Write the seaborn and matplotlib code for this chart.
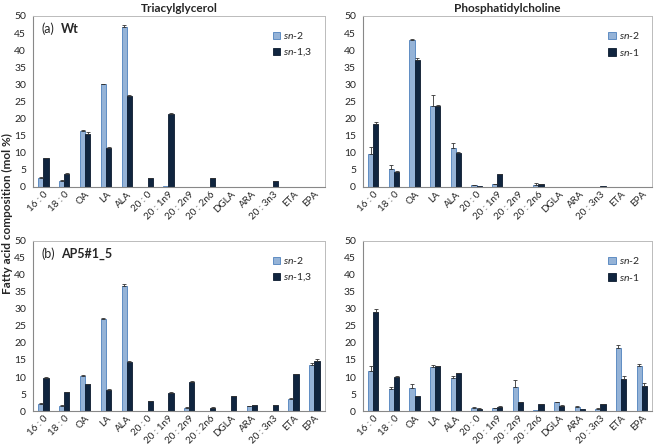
import numpy as np
import pandas as pd
import matplotlib
matplotlib.use('Agg')
import matplotlib.pyplot as plt
import seaborn as sns
from matplotlib.patches import Patch

# categorias (ácidos graxos)
acidos = ['16 : 0', '18 : 0', 'OA', 'LA', 'ALA', '20 : 0', '20 : 1n9', '20 : 2n9',
          '20 : 2n6', 'DGLA', 'ARA', '20 : 3n3', 'ETA', 'EPA']

# (a) Wt - Triacylglycerol
tag_wt_sn2 = [2.5, 1.8, 16.5, 30.0, 46.8, 0.1, 0.3, 0.05, 0.1, 0.05, 0.05, 0.05, 0.05, 0.05]
tag_wt_sn2_err = [0.3, 0.2, 0.2, 0.2, 0.6, 0, 0, 0, 0, 0, 0, 0, 0, 0]
tag_wt_sn13 = [8.4, 3.9, 15.6, 11.4, 26.5, 2.5, 21.2, 0.1, 2.5, 0.1, 0.1, 1.7, 0.1, 0.1]
tag_wt_sn13_err = [0.1, 0.2, 0.4, 0.2, 0.5, 0.1, 0.3, 0, 0.1, 0, 0, 0.1, 0, 0]

# (a) Wt - Phosphatidylcholine
pc_wt_sn2 = [9.6, 5.3, 43.1, 23.7, 11.3, 0.6, 0.9, 0.05, 0.7, 0.05, 0.05, 0.1, 0.05, 0.05]
pc_wt_sn2_err = [2.2, 1.0, 0.1, 3.2, 1.5, 0.1, 0.1, 0, 0.5, 0, 0, 0, 0, 0]
pc_wt_sn1 = [18.3, 4.5, 37.0, 23.6, 10.0, 0.3, 3.7, 0.1, 0.9, 0.1, 0.1, 0.3, 0.1, 0.1]
pc_wt_sn1_err = [0.7, 0.2, 0.7, 0.5, 0.1, 0, 0.1, 0, 0.1, 0, 0, 0, 0, 0]

# (b) AP5#1_5 - Triacylglycerol
tag_ap_sn2 = [2.2, 1.6, 10.3, 27.1, 36.9, 0.1, 0.1, 1.0, 0.05, 0.05, 1.4, 0.1, 3.5, 13.6]
tag_ap_sn2_err = [0.2, 0.1, 0.2, 0.2, 0.3, 0, 0, 0.1, 0, 0, 0.1, 0, 0.2, 0.4]
tag_ap_sn13 = [9.8, 5.6, 7.8, 6.3, 14.5, 2.9, 5.4, 8.6, 1.0, 4.3, 1.8, 1.8, 10.8, 14.7]
tag_ap_sn13_err = [0.1, 0.1, 0.1, 0.2, 0.2, 0.1, 0.1, 0.2, 0.1, 0.1, 0.1, 0.1, 0.1, 0.5]

# (b) AP5#1_5 - Phosphatidylcholine
pc_ap_sn2 = [11.8, 6.4, 6.8, 12.9, 9.7, 1.0, 0.9, 7.1, 0.3, 2.6, 1.3, 0.7, 18.5, 13.2]
pc_ap_sn2_err = [1.3, 0.7, 1.2, 0.6, 0.7, 0.1, 0.1, 2.1, 0, 0.1, 0.2, 0.1, 1.0, 0.7]
pc_ap_sn1 = [29.1, 10.0, 4.4, 13.1, 11.1, 0.7, 1.3, 2.6, 2.0, 1.6, 0.5, 2.1, 9.4, 7.5]
pc_ap_sn1_err = [1.0, 0.2, 0.1, 0.2, 0.2, 0.1, 0.1, 0.1, 0.1, 0.1, 0, 0.1, 1.0, 0.8]

cor_clara = '#95B3D7'
borda_clara = '#4F81BD'
cor_escura = '#10253F'
borda_escura = '#0B1A2E'

sns.set_style('white')
plt.rcParams['font.family'] = ['Lato', 'DejaVu Sans']
plt.rcParams['mathtext.fontset'] = 'custom'
plt.rcParams['mathtext.it'] = 'Lato:italic'
plt.rcParams['mathtext.rm'] = 'Lato'


def painel(ax, v1, e1, v2, e2, nome2, rotulo=None, negrito=None, titulo=None):
    df = pd.DataFrame({
        'acido': acidos * 2,
        'valor': v1 + v2,
        'pos': ['sn-2'] * len(acidos) + [nome2] * len(acidos),
    })
    sns.barplot(data=df, x='acido', y='valor', hue='pos', order=acidos,
                hue_order=['sn-2', nome2], palette=[cor_clara, cor_escura],
                width=0.5, gap=0, errorbar=None, legend=False, ax=ax,
                saturation=1, linewidth=0.6)
    for cont, bordas, erros in zip(ax.containers, [borda_clara, borda_escura], [e1, e2]):
        xs, ys, es = [], [], []
        for barra, err in zip(cont, erros):
            barra.set_edgecolor(bordas)
            if err > 0:
                xs.append(barra.get_x() + barra.get_width() / 2)
                ys.append(barra.get_height())
                es.append(err)
        ax.errorbar(xs, ys, yerr=[np.zeros(len(es)), es], fmt='none',
                    ecolor='#333333', elinewidth=0.6, capsize=1.5, capthick=0.6)

    ax.set_ylim(0, 50)
    ax.set_xlim(-0.5, len(acidos) - 0.5)
    ax.set_yticks(range(0, 51, 5))
    ax.set_xlabel('')
    ax.set_ylabel('')
    ax.set_xticks(range(len(acidos)))
    ax.set_xticklabels(acidos, rotation=45, ha='right', rotation_mode='anchor', fontsize=7)
    ax.set_xticks(np.arange(-0.5, len(acidos), 1), minor=True)
    ax.tick_params(axis='x', which='major', length=0, pad=2)
    ax.tick_params(axis='x', which='minor', length=3.5, width=0.7, color='#888888')
    ax.tick_params(axis='y', length=3, width=0.7, color='#888888', labelsize=7.5, pad=2)
    for lado in ['top', 'right']:
        ax.spines[lado].set_color('#BBBBBB')
        ax.spines[lado].set_linewidth(0.7)
    for lado in ['left', 'bottom']:
        ax.spines[lado].set_color('#888888')
        ax.spines[lado].set_linewidth(0.8)

    alcas = [Patch(facecolor=cor_clara, edgecolor=borda_clara, linewidth=0.6),
             Patch(facecolor=cor_escura, edgecolor=borda_escura, linewidth=0.6)]
    nome_leg = nome2.replace('sn', r'$\it{sn}$')
    ax.legend(alcas, [r'$\it{sn}$-2', nome_leg], loc='upper right',
              bbox_to_anchor=(0.99, 0.97), frameon=False, fontsize=7.5,
              handlelength=0.7, handleheight=0.7, handletextpad=0.3,
              labelspacing=0.5)
    if rotulo:
        ax.text(0.03, 0.925, rotulo, transform=ax.transAxes, fontsize=9, va='center')
        ax.annotate(negrito, xy=(0.03, 0.925), xycoords='axes fraction',
                    xytext=(14, 0), textcoords='offset points',
                    fontsize=9, fontweight='bold', va='center')
    if titulo:
        ax.set_title(titulo, fontsize=8.5, fontweight='bold', pad=3)


fig = plt.figure(figsize=(6.54, 4.44), dpi=100)
ax1 = fig.add_axes([0.0505, 0.579, 0.446, 0.385])
ax2 = fig.add_axes([0.555, 0.579, 0.442, 0.385])
ax3 = fig.add_axes([0.0505, 0.0743, 0.446, 0.383])
ax4 = fig.add_axes([0.555, 0.0743, 0.442, 0.383])

painel(ax1, tag_wt_sn2, tag_wt_sn2_err, tag_wt_sn13, tag_wt_sn13_err, 'sn-1,3',
       '(a)', 'Wt', 'Triacylglycerol')
painel(ax2, pc_wt_sn2, pc_wt_sn2_err, pc_wt_sn1, pc_wt_sn1_err, 'sn-1',
       titulo='Phosphatidylcholine')
painel(ax3, tag_ap_sn2, tag_ap_sn2_err, tag_ap_sn13, tag_ap_sn13_err, 'sn-1,3',
       '(b)', 'AP5#1_5')
painel(ax4, pc_ap_sn2, pc_ap_sn2_err, pc_ap_sn1, pc_ap_sn1_err, 'sn-1')

fig.text(0.012, 0.52, 'Fatty acid composition (mol %)', rotation=90,
         va='center', ha='center', fontsize=8.5, fontweight='bold')

plt.savefig('out.png', dpi=100)
